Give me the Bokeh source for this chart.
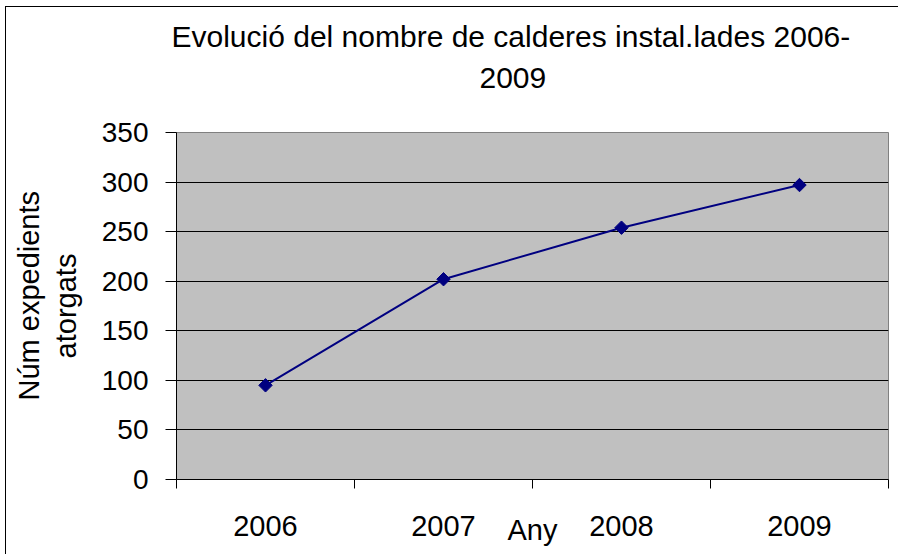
import math
from bokeh.plotting import figure
from bokeh.models import Range1d, FixedTicker, Title
from bokeh.embed import file_html
from bokeh.resources import INLINE

# ---- data ----
years = ["2006", "2007", "2008", "2009"]
expedients = [95, 202, 254, 297]
y_ticks = [0, 50, 100, 150, 200, 250, 300, 350]
title_line1 = "Evolució del nombre de calderes instal.lades 2006-"
title_line2 = "2009"
y_label_line1 = "Núm expedients"
y_label_line2 = "atorgats"
x_label = "Any"

FONT = "Liberation Sans"
xs = [i + 0.5 for i in range(len(years))]

p = figure(width=893, height=548, output_backend="svg", toolbar_location=None,
           x_range=Range1d(0, len(years)), y_range=Range1d(0, 350),
           min_border_left=170, min_border_right=11, min_border_top=125,
           min_border_bottom=76, title=None)
p.styles = {"margin-left": "5px", "margin-top": "6px",
            "border-top": "1px solid #000", "border-left": "1px solid #000",
            "border-right": "none", "border-bottom": "none"}

p.background_fill_color = "#C0C0C0"
p.border_fill_color = "white"
p.outline_line_color = "#808080"
p.outline_line_width = 1

p.xgrid.visible = False
p.ygrid.ticker = FixedTicker(ticks=y_ticks)
p.ygrid.grid_line_color = "black"
p.ygrid.grid_line_width = 1

# y axis
ya = p.yaxis[0]
ya.ticker = FixedTicker(ticks=y_ticks)
ya.axis_line_color = "black"
ya.major_tick_line_color = "black"
ya.major_tick_out = 11
ya.major_tick_in = 0
ya.minor_tick_out = 0
ya.minor_tick_in = 0
ya.major_label_text_font = FONT
ya.major_label_text_font_size = "28px"
ya.major_label_text_color = "black"
ya.major_label_standoff = 17
ya.axis_label = y_label_line2
ya.axis_label_text_font = FONT
ya.axis_label_text_font_size = "29px"
ya.axis_label_text_font_style = "normal"
ya.axis_label_text_color = "black"
ya.axis_label_standoff = 17

# x axis: labels at category centres, tick marks at category boundaries
xa = p.xaxis[0]
xa.ticker = FixedTicker(ticks=xs, minor_ticks=list(range(len(years) + 1)))
xa.major_label_overrides = {x: y for x, y in zip(xs, years)}
xa.axis_line_color = "black"
xa.major_tick_out = 0
xa.major_tick_in = 0
xa.minor_tick_out = 9
xa.minor_tick_in = 0
xa.minor_tick_line_color = "black"
xa.major_label_text_font = FONT
xa.major_label_text_font_size = "29px"
xa.major_label_text_color = "black"
xa.major_label_standoff = 27
xa.axis_label = x_label
xa.axis_label_text_font = FONT
xa.axis_label_text_font_size = "29px"
xa.axis_label_text_font_style = "normal"
xa.axis_label_text_color = "black"
xa.axis_label_standoff = -25

p.line(xs, expedients, line_color="#000080", line_width=2)
p.scatter(xs, expedients, marker="square", size=9.5, angle=math.pi / 4,
          fill_color="#000080", line_color="#000080")

# titles above the plot area
spacer = Title(text=" ", text_font_size="1px", standoff=37)
t2 = Title(text=title_line2, align="left", offset=303, text_font=FONT,
           text_font_size="30px", text_font_style="normal", text_color="black")
t1 = Title(text=title_line1, align="left", offset=-5, text_font=FONT,
           text_font_size="30px", text_font_style="normal", text_color="black",
           standoff=16)
p.add_layout(spacer, "above")
p.add_layout(t2, "above")
p.add_layout(t1, "above")

# first line of the y-axis title, outside the axis label
yl1 = Title(text=y_label_line1, align="left", offset=79, text_font=FONT,
            text_font_size="29px", text_font_style="normal", text_color="black",
            standoff=4)
p.add_layout(yl1, "left")

open("out.html", "w").write(file_html(p, INLINE))
